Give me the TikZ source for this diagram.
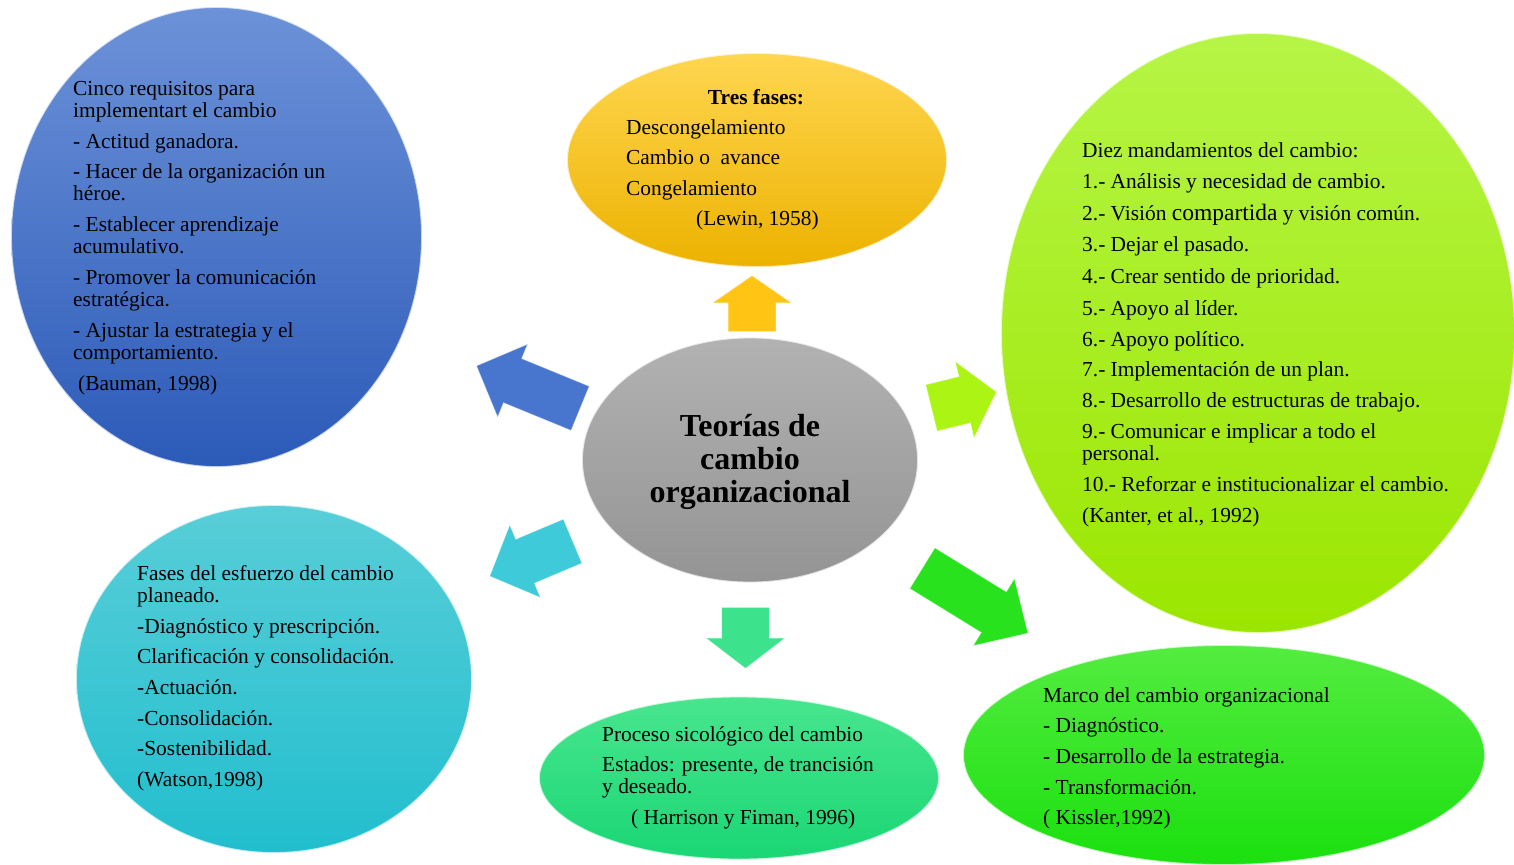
\documentclass[tikz,border=0pt]{standalone}
\usepackage{fontspec}
\setmainfont{Liberation Serif}
\usetikzlibrary{shapes.geometric,shapes.arrows}
\definecolor{blueTop}{RGB}{108,146,216}
\definecolor{blueBot}{RGB}{44,90,184}
\definecolor{yelTop}{RGB}{255,214,80}
\definecolor{yelBot}{RGB}{236,178,0}
\definecolor{limeTop}{RGB}{182,245,70}
\definecolor{limeBot}{RGB}{155,230,0}
\definecolor{cyanTop}{RGB}{88,206,216}
\definecolor{cyanBot}{RGB}{34,190,206}
\definecolor{mintTop}{RGB}{72,230,142}
\definecolor{mintBot}{RGB}{26,214,116}
\definecolor{greenTop}{RGB}{84,236,64}
\definecolor{greenBot}{RGB}{26,224,14}
\definecolor{grayTop}{RGB}{178,178,178}
\definecolor{grayBot}{RGB}{148,148,148}
\definecolor{arrY}{RGB}{255,196,20}
\definecolor{arrB}{RGB}{72,118,206}
\definecolor{arrL}{RGB}{172,244,20}
\definecolor{arrC}{RGB}{62,202,216}
\definecolor{arrM}{RGB}{60,226,140}
\definecolor{arrG}{RGB}{40,226,30}
\begin{document}
\begin{tikzpicture}[x=1pt,y=-1pt,
  bub/.style={ellipse, inner sep=0pt, draw=white, line width=1.8pt, draw opacity=0.7},
  txt/.style={anchor=north west, align=left, inner sep=0pt, font=\fontsize{21.4}{22}\selectfont},
  barrow/.style={single arrow, anchor=tail, inner xsep=0pt, inner ysep=23.5pt, minimum width=78pt, single arrow head extend=15.5pt, draw=white, draw opacity=0.45, line width=0.8pt}]
\useasboundingbox (0,0) rectangle (1514,864);
\fill[white] (0,0) rectangle (1514,864);
\clip (0,0) rectangle (1514,864);

% bubbles
\node[bub, minimum width=411pt, minimum height=460pt, top color=blueTop, bottom color=blueBot] (blue) at (216.5,237) {};
\node[bub, minimum width=380pt, minimum height=214pt, top color=yelTop, bottom color=yelBot] (yellow) at (757,160) {};
\node[bub, minimum width=514pt, minimum height=600pt, top color=limeTop, bottom color=limeBot] (lime) at (1258,333) {};
\node[bub, minimum width=396pt, minimum height=348pt, top color=cyanTop, bottom color=cyanBot] (cyan) at (274,679) {};
\node[bub, minimum width=400pt, minimum height=163pt, top color=mintTop, bottom color=mintBot] (mint) at (739,778) {};
\node[bub, minimum width=522pt, minimum height=220pt, top color=greenTop, bottom color=greenBot] (green) at (1224,755) {};
\node[bub, minimum width=336pt, minimum height=245pt, top color=grayTop, bottom color=grayBot] (hub) at (750,460) {};

% block arrows (placed by their tail)
\node[barrow, fill=arrY, rotate=90, minimum height=56pt, single arrow tip angle=110.6] (aY) at (752,332) {};
\node[barrow, fill=arrB, rotate=157.7, minimum height=112pt, single arrow tip angle=90.6] (aB) at (580.5,408.5) {};
\node[barrow, fill=arrC, rotate=202.9, minimum height=90pt, single arrow tip angle=91.5] (aC) at (573,541) {};
\node[barrow, fill=arrM, rotate=-90, minimum height=61pt, single arrow tip angle=104.9] (aM) at (745.5,607) {};
\node[barrow, fill=arrG, rotate=-31.6, minimum height=124pt, single arrow tip angle=89] (aG) at (922,568) {};
\node[barrow, fill=arrL, rotate=13.8, minimum height=67pt, single arrow tip angle=100.5] (aL) at (931,408) {};

% texts
\node[font=\bfseries\fontsize{32}{33}\selectfont, align=center, inner sep=0pt] (title) at (750,462) {Teorías de\\cambio\\organizacional};

\node[txt] (blueText) at (73,81) {Cinco requisitos para\\implementart el cambio\\[9pt]- Actitud ganadora.\\[8pt]- Hacer de la organización un\\héroe.\\[9pt]- Establecer aprendizaje\\acumulativo.\\[9pt]- Promover la comunicación\\estratégica.\\[9pt]- Ajustar la estrategia y el\\comportamiento.\\[9pt]\hspace*{5pt}(Bauman, 1998)};

\node[font=\bfseries\fontsize{21.4}{22}\selectfont, inner sep=0pt] (yelTitle) at (756,97) {Tres fases:};
\node[txt, font=\fontsize{21.4}{30.5}\selectfont] (yelText) at (626,119) {Descongelamiento\\Cambio o\ \ avance\\Congelamiento\\\hspace*{70pt}(Lewin, 1958)};

\node[txt] (limeText) at (1082,142) {Diez mandamientos del cambio:\\[9.3pt]1.- Análisis y necesidad de cambio.\\[9.8pt]2.- Visión {\fontsize{23.5}{22}\selectfont compartida} y visión común.\\[9.8pt]3.- Dejar el pasado.\\[9.8pt]4.- Crear sentido de prioridad.\\[9.3pt]5.- Apoyo al líder.\\[9pt]6.- Apoyo político.\\[8.5pt]7.- Implementación de un plan.\\[8.5pt]8.- Desarrollo de estructuras de trabajo.\\[9pt]9.- Comunicar e implicar a todo el\\personal.\\[9pt]10.- Reforzar e institucionalizar el cambio.\\[9pt](Kanter, et al., 1992)};

\node[txt] (cyanText) at (137,565) {Fases del esfuerzo del cambio\\planeado.\\[9pt]-Diagnóstico y prescripción.\\[8pt]Clarificación y consolidación.\\[9pt]-Actuación.\\[9pt]-Consolidación.\\[8pt]-Sostenibilidad.\\[9pt](Watson,1998)};

\node[txt] (mintText) at (602,726) {Proceso sicológico del cambio\\[8pt]Estados: presente, de trancisión\\y deseado.\\[9pt]\hspace*{29pt}( Harrison y Fiman, 1996)};

\node[txt] (greenText) at (1043,687) {Marco del cambio organizacional\\[8pt]- Diagnóstico.\\[9pt]- Desarrollo de la estrategia.\\[9pt]- Transformación.\\[8pt]( Kissler,1992)};
\end{tikzpicture}
\end{document}
